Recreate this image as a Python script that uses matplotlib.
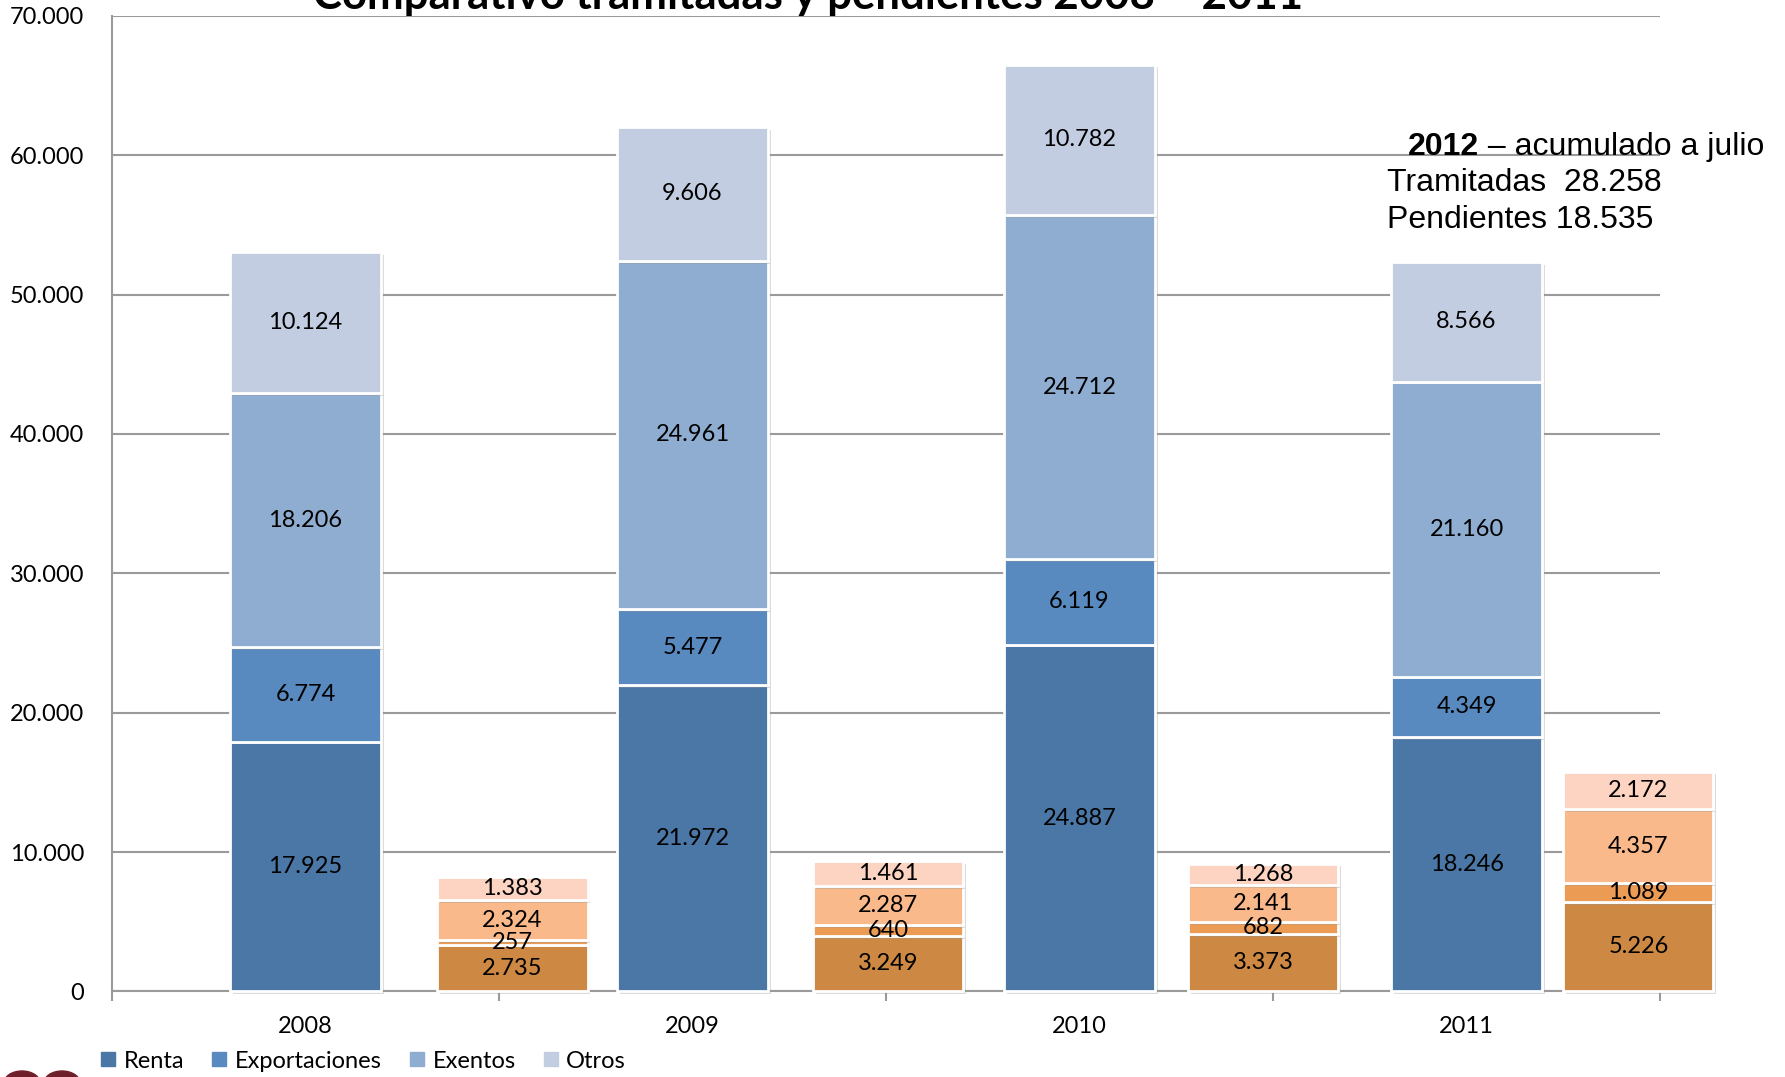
import numpy as np
import matplotlib
matplotlib.use("Agg")
import matplotlib.pyplot as plt
import matplotlib.patheffects as pe
from matplotlib.patches import Ellipse
from matplotlib.lines import Line2D

plt.rcParams['font.family'] = ['Lato', 'DejaVu Sans']

years = ['2008', '2009', '2010', '2011']
series = ['Renta', 'Exportaciones', 'Exentos', 'Otros']

# tramitadas por tipo
tram_renta = [17925, 21972, 24887, 18246]
tram_export = [6774, 5477, 6119, 4349]
tram_exentos = [18206, 24961, 24712, 21160]
tram_otros = [10124, 9606, 10782, 8566]

# pendientes por tipo (ejes secundarios)
pend_renta = [2735, 3249, 3373, 5226]
pend_export = [257, 640, 682, 1089]
pend_exentos = [2324, 2287, 2141, 4357]
pend_otros = [1383, 1461, 1268, 2172]

tram_colors = ['#4a77a5', '#5889bf', '#8fadd1', '#c3cde2']
pend_colors = ['#cd8843', '#eb9b53', '#f9b98b', '#fdd3c2']

SANS = ['Liberation Sans', 'DejaVu Sans']


def fmt(v):
    return f"{v:,}".replace(',', '.')


fig = plt.figure(figsize=(17.85, 10.77), dpi=100)
rect = [0.0627, 0.0794, 0.8673, 0.906]
ax = fig.add_axes(rect)
ax2 = fig.add_axes(rect, frameon=False)
ax2.patch.set_visible(False)

x = np.arange(len(years))
shadow = [pe.SimplePatchShadow(offset=(2, -2), shadow_rgbFace='#999999', alpha=0.35), pe.Normal()]


def stack(axis, xpos, layers, colors, w):
    bottom = np.zeros(len(xpos))
    for vals, col in zip(layers, colors):
        vals = np.array(vals)
        bars = axis.bar(xpos, vals, w, bottom=bottom, color=col, edgecolor='white',
                        linewidth=2, zorder=3, clip_on=False)
        for b in bars:
            b.set_path_effects(shadow)
        for xi, b0, v in zip(xpos, bottom, vals):
            axis.text(xi, b0 + v / 2, fmt(int(v)), ha='center', va='center',
                      fontsize=17, color='black', zorder=5, clip_on=False)
        bottom = bottom + vals


stack(ax, x, [tram_renta, tram_export, tram_exentos, tram_otros], tram_colors, 0.39)
stack(ax2, x, [pend_renta, pend_export, pend_exentos, pend_otros], pend_colors, 0.40)

ax.set_xlim(-0.5, 3.5)
ax.set_ylim(0, 70000)
ax2.set_xlim(-1.0675, 3.0576)
ax2.set_ylim(0, 57000)
ax2.set_xticks([])
ax2.set_yticks([])

ax.set_yticks(np.arange(0, 70001, 10000))
ax.set_yticklabels([fmt(v) for v in range(0, 70001, 10000)], fontsize=17)
ax.yaxis.grid(True, color='#9a9a9a', linewidth=1.5, zorder=0)
ax.set_axisbelow(True)

ax.set_xticks(x)
ax.set_xticklabels(years, fontsize=17)
ax.set_xticks(np.arange(-0.5, 3.6, 1), minor=True)
ax.tick_params(axis='x', which='major', length=0, pad=18)
ax.tick_params(axis='x', which='minor', length=7, color='#9a9a9a', width=1.5, direction='out')
ax.tick_params(axis='y', length=0, pad=20)

for s in ['top', 'right']:
    ax.spines[s].set_visible(False)
for s in ['left', 'bottom']:
    ax.spines[s].set_color('#9a9a9a')
    ax.spines[s].set_linewidth(1.5)

fig.text(0.4527, 0.9915, 'Comparativo tramitadas y pendientes 2008 – 2011',
         ha='center', va='baseline', fontsize=31.5, fontweight='bold')

# nota 2012
t = fig.text(1408 / 1785, 1 - 155 / 1077, '2012', fontsize=23, fontweight='bold',
             family=SANS, va='baseline')
ax.annotate(' – acumulado a julio', xy=(1, 0), xycoords=t, fontsize=23,
            family=SANS, va='bottom', annotation_clip=False)
fig.text(1387 / 1785, 1 - 183 / 1077, 'Tramitadas  28.258', fontsize=23,
         family=SANS, va='center')
fig.text(1387 / 1785, 1 - 220 / 1077, 'Pendientes 18.535', fontsize=23,
         family=SANS, va='center')

handles = [Line2D([], [], marker='s', linestyle='none', markersize=10,
                  markerfacecolor=c, markeredgecolor=c) for c in tram_colors]
fig.legend(handles, series, loc='center left', bbox_to_anchor=(0.050, 1 - 1061 / 1077),
           ncol=4, frameon=False, fontsize=17, handletextpad=0.25, columnspacing=1.1,
           borderaxespad=0, handlelength=0.8)

# logo parcial
for cx in [22, 62]:
    fig.patches.append(Ellipse((cx, -6), 36, 24, transform=None, color='#6e1f2a', zorder=1))

fig.savefig('out.png', dpi=100)
